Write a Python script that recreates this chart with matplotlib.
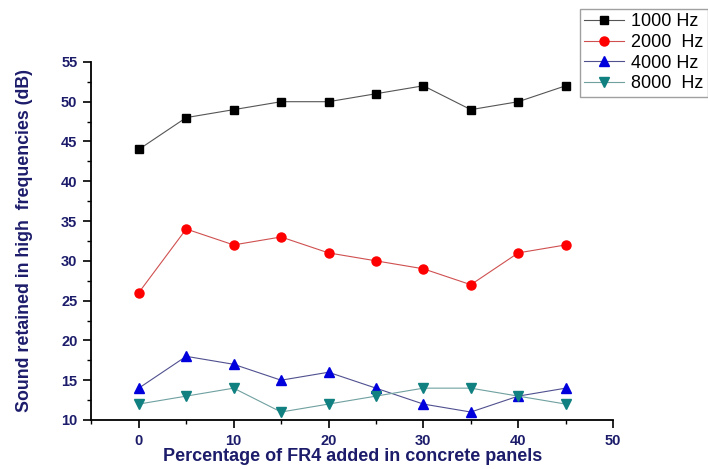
import matplotlib
matplotlib.use("Agg")
import matplotlib.pyplot as plt
from matplotlib.ticker import MultipleLocator

plt.rcParams['font.family'] = ['Liberation Sans', 'DejaVu Sans']

# data
fr4_pct = [0, 5, 10, 15, 20, 25, 30, 35, 40, 45]
hz_1000 = [44, 48, 49, 50, 50, 51, 52, 49, 50, 52]
hz_2000 = [26, 34, 32, 33, 31, 30, 29, 27, 31, 32]
hz_4000 = [14, 18, 17, 15, 16, 14, 12, 11, 13, 14]
hz_8000 = [12, 13, 14, 11, 12, 13, 14, 14, 13, 12]
labels = ['1000 Hz', '2000  Hz', '4000 Hz', '8000  Hz']

navy = '#1c1c6b'

fig = plt.figure(figsize=(7.08, 4.69), dpi=100)
ax = fig.add_axes([0.129, 0.1045, 0.737, 0.7635])

ax.plot(fr4_pct, hz_1000, color='#555555', lw=0.8, marker='s', ms=5.5,
        mfc='black', mec='black', label=labels[0])
ax.plot(fr4_pct, hz_2000, color='#d05050', lw=0.8, marker='o', ms=6.5,
        mfc='red', mec='red', label=labels[1])
ax.plot(fr4_pct, hz_4000, color='#505090', lw=0.8, marker='^', ms=7,
        mfc='#0000dd', mec='#0000dd', label=labels[2])
ax.plot(fr4_pct, hz_8000, color='#70a0a0', lw=0.8, marker='v', ms=7,
        mfc='#108080', mec='#108080', label=labels[3])

ax.set_xlim(-5, 50)
ax.set_ylim(10, 55)
ax.xaxis.set_major_locator(MultipleLocator(10))
ax.xaxis.set_minor_locator(MultipleLocator(5))
ax.yaxis.set_major_locator(MultipleLocator(5))
ax.yaxis.set_minor_locator(MultipleLocator(2.5))

for s in ['top', 'right']:
    ax.spines[s].set_visible(False)
for s in ['left', 'bottom']:
    ax.spines[s].set_linewidth(1.3)
ax.tick_params(which='major', direction='out', length=6, width=1.2,
               labelsize=10.5, labelcolor=navy, pad=4)
ax.tick_params(which='minor', direction='out', length=3, width=1.0)
for t in ax.get_xticklabels() + ax.get_yticklabels():
    t.set_fontweight('bold')

ax.set_xlabel('Percentage of FR4 added in concrete panels', fontsize=13,
              fontweight='bold', color=navy, labelpad=0)
ax.set_ylabel('Sound retained in high  frequencies (dB)', fontsize=12.8,
              fontweight='bold', color=navy, labelpad=20)

fig.legend(loc='upper left', bbox_to_anchor=(0.819, 0.981), fontsize=13,
           frameon=True, fancybox=False, edgecolor='#888888',
           handlelength=2.2, borderpad=0.25, labelspacing=0.2,
           handletextpad=0.4, borderaxespad=0)

fig.savefig('out.png', dpi=100)
